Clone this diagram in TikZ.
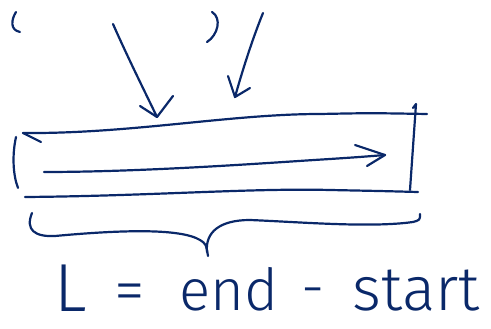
\documentclass[tikz,border=0pt]{standalone}
\usepackage{fontspec}
\newfontfamily\hand{Fira Sans Light}
\definecolor{ink}{RGB}{10,40,105}
\begin{document}
\begin{tikzpicture}[x=1pt,y=-1pt,
  pen/.style={draw=ink,line width=2.2pt,line cap=round,line join=round},
  lbl/.style={text=ink,font=\hand\fontsize{58}{58}\selectfont,inner sep=0pt,anchor=base}]
\useasboundingbox (0,0) rectangle (491,329);
% small marks at top
\draw[pen] (16,12) .. controls (11,20) and (10,30) .. (20,32);
\draw[pen] (212,12) .. controls (222,18) and (218,35) .. (207,42);
% arrows pointing down to the bar
\coordinate (a1s) at (113,24); \coordinate (a1e) at (157,117);
\draw[pen] (a1s) .. controls (128,58) and (145,92) .. (a1e);
\draw[pen] (140,106) -- (a1e) -- (173,96);
\coordinate (a2s) at (263,13); \coordinate (a2e) at (235,97);
\draw[pen] (a2s) .. controls (252,40) and (242,72) .. (a2e);
\draw[pen] (228,76) -- (a2e) -- (250,88);
% bar
\coordinate (tl) at (23,133); \coordinate (tr) at (427,114);
\draw[pen] (tl) .. controls (130,134) and (230,114) .. (320,114) .. controls (370,113) .. (tr);
\draw[pen] (tl) -- (41,142);
\draw[pen] (16,137) .. controls (12,155) and (13,175) .. (18,188);
\draw[pen] (413,108) -- (416,104) -- (410,190);
\coordinate (bl) at (25,197); \coordinate (br) at (418,192);
\draw[pen] (bl) .. controls (150,196) and (250,188) .. (330,190) .. controls (380,191) .. (br);
% inner arrow
\coordinate (ia) at (44,172); \coordinate (ib) at (385,155);
\draw[pen] (ia) .. controls (150,172) and (280,162) .. (330,159) .. controls (360,157) .. (ib);
\draw[pen] (355,145) -- (ib) -- (367,166);
% brace
\coordinate (tip) at (208,256);
\draw[pen] (32,213) .. controls (25,230) and (35,237) .. (55,236) .. controls (120,230) and (180,228) .. (200,240) .. controls (206,244) .. (tip);
\draw[pen] (207,252) .. controls (205,232) and (220,220) .. (250,220) .. controls (300,222) and (370,228) .. (413,222) .. controls (420,220) .. (420,214);
% formula
\node[lbl,font=\hand\fontsize{68}{68}\selectfont] (L) at (71,312) {L};
\node[lbl,font=\hand\fontsize{62}{62}\selectfont] (eq) at (130,311) {=};
\node[lbl] (end) at (229,310) {end};
\node[lbl] (minus) at (313,307) {-};
\node[lbl,font=\hand\fontsize{62}{62}\selectfont] (start) at (416,310) {start};
\end{tikzpicture}
\end{document}
